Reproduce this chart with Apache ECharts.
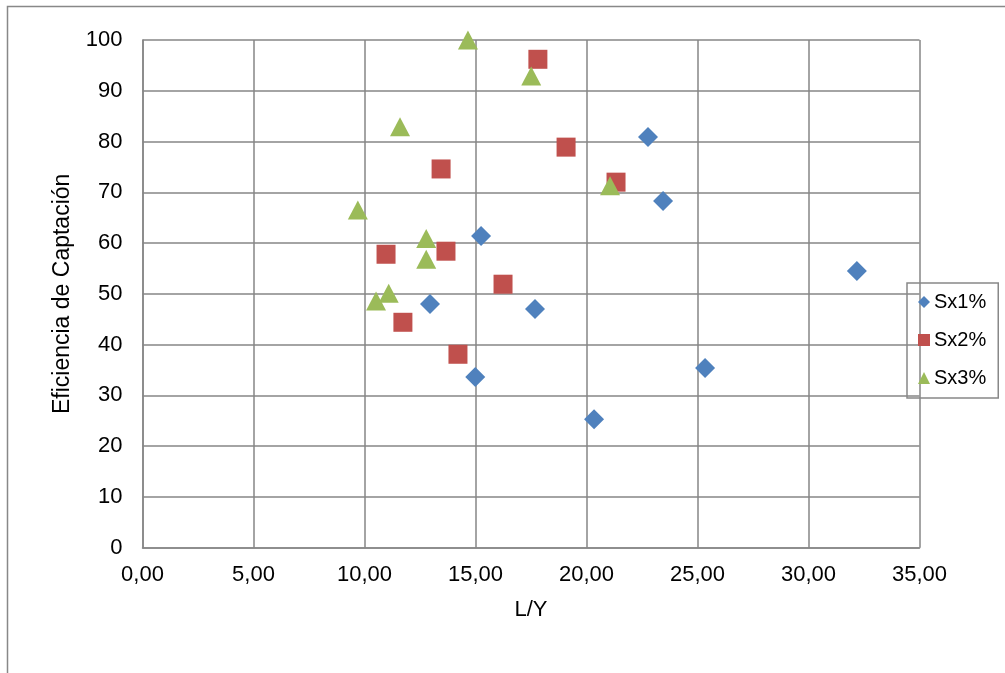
<!DOCTYPE html>
<html><head><meta charset="utf-8">
<script src="https://cdn.jsdelivr.net/npm/echarts@6/dist/echarts.min.js"></script>
<style>html,body{margin:0;padding:0;background:#fff}#c{width:1005px;height:673px}</style>
</head><body><div id="c"></div>
<script>
const seriesNames = ['Sx1%', 'Sx2%', 'Sx3%'];
const sx1 = [[32.18,54.5],[22.77,80.9],[23.45,68.3],[15.25,61.4],[12.95,48.0],[17.68,47.0],[14.99,33.6],[25.34,35.4],[20.34,25.3]];
const sx2 = [[17.81,96.2],[19.08,78.9],[21.33,72.0],[13.45,74.6],[10.97,57.8],[13.67,58.4],[16.24,51.9],[11.73,44.4],[14.21,38.1]];
const sx3 = [[14.66,100],[17.51,92.9],[11.6,82.9],[21.06,71.3],[9.7,66.5],[12.78,60.9],[12.78,56.8],[11.09,50.1],[10.52,48.6]];
const xTitle = 'L/Y';
const yTitle = 'Eficiencia de Captación';

const chart = echarts.init(document.getElementById('c'), null, {renderer:'canvas'});
const font = 'Liberation Sans, Arial, sans-serif';
const gridColor = '#868686';
chart.setOption({
  animation:false,
  textStyle:{fontFamily:font},
  graphic:[{type:'rect',shape:{x:7.5,y:6.5,width:1010,height:680},style:{fill:'none',stroke:'#888',lineWidth:1.5},silent:true}],
  grid:{left:142.5,right:85.5,top:40,bottom:125.3},
  legend:{
    orient:'vertical', left:907, top:283, padding:[9,12,10,11],
    borderColor:'#888', borderWidth:1.5, itemGap:18, itemWidth:12, itemHeight:12,
    textStyle:{fontSize:20,color:'#000',fontFamily:font,padding:[0,0,0,-1]},
    data:seriesNames
  },
  xAxis:{type:'value',min:0,max:35,interval:5,
    name:xTitle,nameLocation:'middle',nameGap:51,nameTextStyle:{fontSize:22,color:'#000'},
    axisLine:{lineStyle:{color:gridColor,width:1.5}},axisTick:{show:false},
    axisLabel:{fontSize:22,color:'#000',margin:16,formatter:v=>v.toFixed(2).replace('.',',')},
    splitLine:{lineStyle:{color:gridColor,width:1.5}}},
  yAxis:{type:'value',min:0,max:100,interval:10,
    name:yTitle,nameLocation:'middle',nameGap:68,nameTextStyle:{fontSize:23,color:'#000'},
    axisLine:{show:true,lineStyle:{color:gridColor,width:1.5}},axisTick:{show:false},
    axisLabel:{fontSize:22,color:'#000',margin:20},
    splitLine:{lineStyle:{color:gridColor,width:1.5}}},
  series:[
    {name:seriesNames[0],type:'scatter',data:sx1,symbol:'diamond',symbolSize:20,itemStyle:{color:'#4F81BD',opacity:1}},
    {name:seriesNames[1],type:'scatter',data:sx2,symbol:'rect',symbolSize:19,itemStyle:{color:'#C0504D',opacity:1}},
    {name:seriesNames[2],type:'scatter',data:sx3,symbol:'triangle',symbolSize:[20,19],itemStyle:{color:'#9BBB59',opacity:1}}
  ]
});
</script></body></html>
